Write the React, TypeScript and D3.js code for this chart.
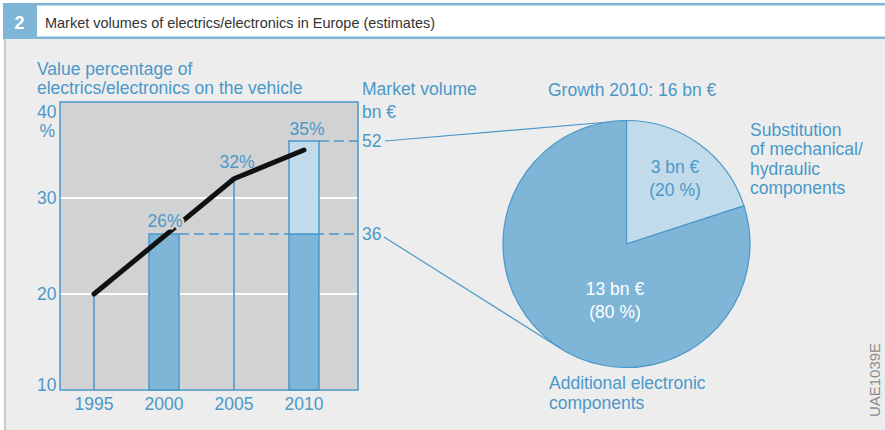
import React from "react";
import * as d3 from "d3";

// data
const years = [1995, 2000, 2005, 2010];
const valueShare = [20, 26, 32, 35]; // % of vehicle value
const shareTicks = [10, 20, 30, 40];
const gridTicks = [20, 30];
const barYears = [2000, 2010];
const baseVolume = [36, 36]; // bn €
const totalVolume = [36, 52]; // bn €
const volumeTicks = [36, 52];
const growthLabels = ["3 bn €", "13 bn €"];
const growthPct = [20, 80];

const FONT = "'Liberation Sans', Arial, Helvetica, sans-serif";
const BLUE = "#4b98c9";
const DARK = "#7fb5d7";
const LIGHT = "#c2dbeb";
const PLOT_BG = "#d1d2d4";
const PANEL_BG = "#ecedec";
const FS = 17.5;

const W = 885;
const H = 430;
const plot = { left: 60, right: 358, top: 102, bottom: 390 };

export default function App() {
  const x = d3.scaleLinear().domain([1992.57, 2013.86]).range([plot.left, plot.right]);
  const y = d3.scaleLinear().domain([10, 40]).range([plot.bottom, plot.top]);
  const yVol = d3.scaleLinear().domain([36, 52]).range([234, 141]);
  const barW = x(2001.07) - x(2000);

  const line = d3
    .line<number>()
    .x((_, i) => x(years[i]))
    .y((d) => y(d));

  const cx = 626.5;
  const cy = 244;
  const r = 123.5;
  const pie = d3.pie<number>().sort(null).value((d) => d)(growthPct);
  const arc = d3.arc<d3.PieArcDatum<number>>().innerRadius(0).outerRadius(r);

  // connector from "36" tangent to lower-left of pie
  const p0 = { x: 384, y: 237 };
  const dx = cx - p0.x;
  const dy = cy - p0.y;
  const dist = Math.sqrt(dx * dx + dy * dy);
  const tAng = Math.atan2(dy, dx) + Math.asin(r / dist);
  const tLen = Math.sqrt(dist * dist - r * r);
  const tangent = { x: p0.x + tLen * Math.cos(tAng), y: p0.y + tLen * Math.sin(tAng) };

  const tickDy = (v: number) => (v === 40 ? 16 : v === 10 ? 1 : 6);

  return (
    <svg
      width={W}
      height={H}
      style={{ position: "absolute", left: 0, top: 0 }}
      fontFamily={FONT}
    >
      <rect x={0} y={0} width={W} height={H} fill="#ffffff" />
      {/* header */}
      <rect x={4} y={39} width={W - 4} height={H - 39} fill={PANEL_BG} />
      <rect x={4} y={39} width={2} height={H - 39} fill="#c8c9c9" />
      <rect x={3} y={3} width={W - 3} height={2.5} fill={DARK} />
      <rect x={3} y={36.5} width={W - 3} height={2.5} fill={DARK} />
      <rect x={3} y={3} width={34} height={36} fill={DARK} />
      <text x={19.5} y={28.5} textAnchor="middle" fill="#fff" fontWeight="bold" fontSize={18}>
        2
      </text>
      <text x={45} y={27.5} fill="#333" fontSize={15} textLength={390} lengthAdjust="spacingAndGlyphs">
        Market volumes of electrics/electronics in Europe (estimates)
      </text>

      {/* axis titles */}
      <g fill={BLUE} fontSize={FS}>
        <text x={37} y={75}>Value percentage of</text>
        <text x={37} y={94}>electrics/electronics on the vehicle</text>
        <text x={362} y={95}>Market volume</text>
        <text x={362} y={118}>bn €</text>
      </g>

      {/* plot */}
      <rect
        x={plot.left}
        y={plot.top}
        width={plot.right - plot.left}
        height={plot.bottom - plot.top}
        fill={PLOT_BG}
      />
      {gridTicks.map((t) => (
        <line key={t} x1={plot.left} x2={plot.right} y1={y(t)} y2={y(t)} stroke="#fff" strokeWidth={2} />
      ))}

      {/* bars */}
      {barYears.map((yr, i) => (
        <g key={yr} stroke={BLUE} strokeWidth={1.5}>
          <rect
            x={x(yr) - barW}
            y={yVol(baseVolume[i])}
            width={barW * 2}
            height={plot.bottom - yVol(baseVolume[i])}
            fill={DARK}
          />
          {totalVolume[i] > baseVolume[i] && (
            <rect
              x={x(yr) - barW}
              y={yVol(totalVolume[i])}
              width={barW * 2}
              height={yVol(baseVolume[i]) - yVol(totalVolume[i])}
              fill={LIGHT}
            />
          )}
          <line
            x1={x(yr) + barW}
            x2={plot.right}
            y1={yVol(totalVolume[i])}
            y2={yVol(totalVolume[i])}
            strokeDasharray="10,5"
          />
        </g>
      ))}

      {/* drop lines for 1995 / 2005 */}
      {years
        .map((yr, i) => ({ yr, v: valueShare[i] }))
        .filter((d) => !barYears.includes(d.yr))
        .map((d) => (
          <line key={d.yr} x1={x(d.yr)} x2={x(d.yr)} y1={y(d.v)} y2={plot.bottom} stroke={BLUE} strokeWidth={1.5} />
        ))}

      <rect
        x={plot.left}
        y={plot.top}
        width={plot.right - plot.left}
        height={plot.bottom - plot.top}
        fill="none"
        stroke={BLUE}
        strokeWidth={1.5}
      />

      <path d={line(valueShare) || ""} fill="none" stroke="#111" strokeWidth={5} strokeLinecap="round" strokeLinejoin="round" />

      {/* share labels */}
      {years.slice(1).map((yr, i) => (
        <text
          key={yr}
          x={x(yr) + (yr === 2000 ? 1 : 3)}
          y={yr === 2000 ? 227 : yr === 2005 ? 168 : 135}
          textAnchor="middle"
          fill={BLUE}
          fontSize={FS}
          stroke={PLOT_BG}
          strokeWidth={yr === 2000 ? 5 : 0}
          style={{ paintOrder: "stroke" }}
        >
          {valueShare[i + 1]}%
        </text>
      ))}

      {/* left ticks */}
      <g fill={BLUE} fontSize={FS} textAnchor="end">
        {shareTicks.map((t) => (
          <text key={t} x={56.5} y={y(t) + tickDy(t)}>
            {t}
          </text>
        ))}
        <text x={55} y={137}>%</text>
      </g>

      {/* x ticks */}
      <g fill={BLUE} fontSize={FS} textAnchor="middle">
        {years.map((yr) => (
          <text key={yr} x={x(yr)} y={410}>
            {yr}
          </text>
        ))}
      </g>

      {/* right volume labels */}
      <g fill={BLUE} fontSize={FS}>
        {volumeTicks.map((v) => (
          <text key={v} x={362} y={yVol(v) + 6}>
            {v}
          </text>
        ))}
      </g>

      {/* connectors */}
      <g stroke={BLUE} strokeWidth={1.2} fill="none">
        <line x1={385} y1={yVol(52)} x2={cx} y2={cy - r} />
        <line x1={p0.x} y1={p0.y} x2={tangent.x} y2={tangent.y} />
      </g>

      {/* pie */}
      <g transform={`translate(${cx},${cy})`}>
        {pie.map((s, i) => (
          <path key={i} d={arc(s) || ""} fill={i === 0 ? LIGHT : DARK} stroke={BLUE} strokeWidth={1.2} />
        ))}
      </g>
      <g fontSize={FS} textAnchor="middle">
        <text x={675} y={173} fill={BLUE}>{growthLabels[0]}</text>
        <text x={675} y={196} fill={BLUE}>({growthPct[0]} %)</text>
        <text x={615} y={295} fill="#fff">{growthLabels[1]}</text>
        <text x={615} y={318} fill="#fff">({growthPct[1]} %)</text>
      </g>
      <g fill={BLUE} fontSize={FS}>
        <text x={548} y={96}>Growth 2010: 16 bn €</text>
        <text x={750} y={136}>Substitution</text>
        <text x={750} y={155}>of mechanical/</text>
        <text x={750} y={175}>hydraulic</text>
        <text x={750} y={194}>components</text>
        <text x={549} y={389}>Additional electronic</text>
        <text x={549} y={409}>components</text>
      </g>

      <text
        transform="translate(880,380) rotate(-90)"
        textAnchor="middle"
        fill="#8c8c8c"
        fontSize={15}
      >
        UAE1039E
      </text>
    </svg>
  );
}
